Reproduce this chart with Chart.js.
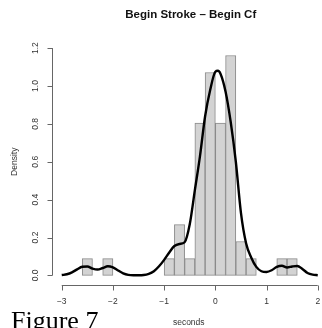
<!DOCTYPE html>
<html>
<head>
<meta charset="utf-8">
<script src="https://cdn.jsdelivr.net/npm/chart.js@4/dist/chart.umd.min.js"></script>
<style>
html,body{margin:0;padding:0;background:#fff;}
#wrap{width:322px;height:328px;position:relative;}
</style>
</head>
<body>
<div id="wrap"><canvas id="c" width="322" height="328"></canvas></div>
<script>
// Histogram bins (centres, width 0.2) and densities
const binCenters = [-2.5,-2.3,-2.1,-1.9,-1.7,-1.5,-1.3,-1.1,-0.9,-0.7,-0.5,-0.3,-0.1,0.1,0.3,0.5,0.7,0.9,1.1,1.3,1.5];
const binDensity = [0.089,0,0.089,0,0,0,0,0,0.089,0.268,0.089,0.804,1.071,0.804,1.161,0.179,0.089,0,0,0.089,0.089];
// Kernel density curve
const kdeX = [-3.0,-2.9,-2.8,-2.7,-2.6,-2.5,-2.4,-2.3,-2.2,-2.1,-2.0,-1.9,-1.8,-1.7,-1.6,-1.5,-1.4,-1.3,-1.2,-1.1,-1.0,-0.9,-0.8,-0.7,-0.6,-0.5,-0.4,-0.3,-0.2,-0.1,0.0,0.05,0.1,0.2,0.3,0.4,0.5,0.6,0.7,0.8,0.9,1.0,1.1,1.2,1.3,1.4,1.5,1.6,1.7,1.8,1.9,2.0];
const kdeY = [0.002,0.006,0.016,0.032,0.046,0.047,0.036,0.031,0.039,0.048,0.042,0.026,0.011,0.003,0.001,0.001,0.002,0.008,0.022,0.048,0.082,0.121,0.155,0.166,0.175,0.27,0.45,0.63,0.84,0.98,1.075,1.08,1.065,0.97,0.81,0.60,0.33,0.17,0.095,0.045,0.022,0.018,0.027,0.045,0.051,0.042,0.047,0.050,0.034,0.013,0.004,0.001];
// Axis ticks
const xTicks = [-3,-2,-1,0,1,2];
const xTickLabels = ['\u22123','\u22122','\u22121','0','1','2'];
const yTicks = [0,0.2,0.4,0.6,0.8,1.0,1.2];
const yTickLabels = ['0.0','0.2','0.4','0.6','0.8','1.0','1.2'];
const titleText = 'Begin Stroke \u2013 Begin Cf';
const xTitle = 'seconds';
const yTitle = 'Density';
const figureLabel = 'Figure 7';

const SANS = '"Liberation Sans", Arial, Helvetica, sans-serif';

const rAxes = {
  id: 'rAxes',
  afterDraw(chart) {
    const ctx = chart.ctx;
    const xs = chart.scales.x, ys = chart.scales.y;
    const area = chart.chartArea;
    const cx = (area.left + xs.getPixelForValue(2.2)) / 2;
    ctx.save();
    // title
    ctx.fillStyle = '#111';
    ctx.font = 'bold 11.5px ' + SANS;
    ctx.textAlign = 'center';
    ctx.textBaseline = 'middle';
    ctx.fillText(titleText, cx + 1, 15);
    // x axis
    ctx.strokeStyle = '#666';
    ctx.lineWidth = 1;
    const ay = Math.round(area.bottom) + 0.5;
    ctx.beginPath();
    ctx.moveTo(xs.getPixelForValue(xTicks[0]), ay);
    ctx.lineTo(xs.getPixelForValue(xTicks[xTicks.length - 1]), ay);
    xTicks.forEach(v => {
      const px = Math.round(xs.getPixelForValue(v)) + 0.5;
      ctx.moveTo(px, ay);
      ctx.lineTo(px, ay + 5);
    });
    ctx.stroke();
    ctx.fillStyle = '#333';
    ctx.font = '8.5px ' + SANS;
    ctx.textAlign = 'center';
    ctx.textBaseline = 'middle';
    xTicks.forEach((v, i) => {
      ctx.fillText(xTickLabels[i], xs.getPixelForValue(v), 302);
    });
    // y axis
    const ax = Math.round(area.left) + 0.5;
    ctx.beginPath();
    ctx.moveTo(ax, ys.getPixelForValue(yTicks[0]));
    ctx.lineTo(ax, ys.getPixelForValue(yTicks[yTicks.length - 1]));
    yTicks.forEach(v => {
      const py = Math.round(ys.getPixelForValue(v)) + 0.5;
      ctx.moveTo(ax, py);
      ctx.lineTo(ax - 5, py);
    });
    ctx.stroke();
    yTicks.forEach((v, i) => {
      ctx.save();
      ctx.translate(36, ys.getPixelForValue(v));
      ctx.rotate(-Math.PI / 2);
      ctx.fillText(yTickLabels[i], 0, 0);
      ctx.restore();
    });
    // axis titles
    ctx.fillText(xTitle, cx - 1, 322.5);
    ctx.save();
    ctx.translate(15, (area.top + area.bottom) / 2);
    ctx.rotate(-Math.PI / 2);
    ctx.fillText(yTitle, 0, 0);
    ctx.restore();
    // figure label
    ctx.fillStyle = '#000';
    ctx.font = '26px "Liberation Serif", "Times New Roman", serif';
    ctx.textAlign = 'left';
    ctx.textBaseline = 'alphabetic';
    ctx.fillText(figureLabel, 11, 328.5);
    ctx.restore();
  }
};

new Chart(document.getElementById('c'), {
  type: 'bar',
  data: {
    datasets: [
      {
        type: 'line',
        data: kdeX.map((x, i) => ({x: x, y: kdeY[i]})),
        borderColor: '#000',
        borderWidth: 2.4,
        pointRadius: 0,
        fill: false,
        cubicInterpolationMode: 'monotone',
        order: 0
      },
      {
        type: 'bar',
        data: binCenters.map((x, i) => ({x: x, y: binDensity[i]})),
        backgroundColor: '#d3d3d3',
        borderColor: '#8a8a8a',
        borderWidth: 1,
        borderSkipped: false,
        barPercentage: 1,
        categoryPercentage: 1,
        order: 1
      }
    ]
  },
  options: {
    responsive: false,
    animation: false,
    events: [],
    layout: {padding: {left: 51.5, right: 0, top: 39, bottom: 43.5}},
    plugins: {legend: {display: false}, tooltip: {enabled: false}, title: {display: false}},
    scales: {
      x: {type: 'linear', min: -3.2, max: 2.083, display: false, offset: false,
          afterBuildTicks: s => { s.ticks = xTicks.map(v => ({value: v})); }},
      y: {type: 'linear', min: -0.048, max: 1.248, display: false,
          afterBuildTicks: s => { s.ticks = yTicks.map(v => ({value: v})); }}
    }
  },
  plugins: [rAxes]
});
</script>
</body>
</html>
